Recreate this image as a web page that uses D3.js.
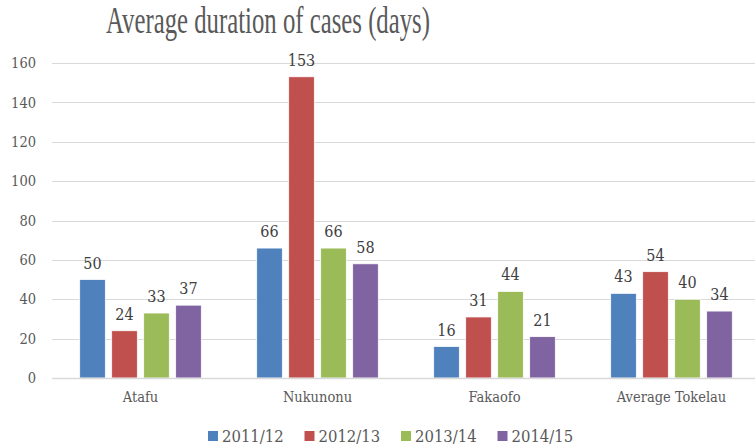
<!DOCTYPE html>
<html>
<head>
<meta charset="utf-8">
<script src="https://cdn.jsdelivr.net/npm/d3@7"></script>
<style>
  html, body { margin: 0; padding: 0; background: #fff; overflow: hidden; }
  text { font-family: "DejaVu Serif Condensed", "DejaVu Serif", serif; font-stretch: condensed; }
</style>
</head>
<body>
<script>
// chart data
const categories = ['Atafu', 'Nukunonu', 'Fakaofo', 'Average Tokelau'];
const seriesNames = ['2011/12', '2012/13', '2013/14', '2014/15'];
const v2011 = [50, 66, 16, 43];
const v2012 = [24, 153, 31, 54];
const v2013 = [33, 66, 44, 40];
const v2014 = [37, 58, 21, 34];
const yTicks = [0, 20, 40, 60, 80, 100, 120, 140, 160];
const colors = ['#4F81BD', '#C0504D', '#9BBB59', '#8064A2'];

const allSeries = [v2011, v2012, v2013, v2014];
const width = 755, height = 447;

const svg = d3.select('body')
    .append('svg')
    .attr('width', width)
    .attr('height', height);

svg.append('rect')
    .attr('width', width)
    .attr('height', height)
    .attr('fill', '#fff');

// title - narrow serif, stretched to the width seen in the picture
svg.append('text')
    .attr('x', 268)
    .attr('y', 33)
    .attr('text-anchor', 'middle')
    .style('font-family', '"Liberation Serif", serif')
    .style('font-stretch', 'normal')
    .attr('font-size', 37)
    .attr('fill', '#595959')
    .attr('textLength', 324)
    .attr('lengthAdjust', 'spacingAndGlyphs')
    .text('Average duration of cases (days)');

const x0 = d3.scaleBand()
    .domain(categories)
    .range([52, 760])
    .paddingInner(0.277)
    .paddingOuter(0.1385);

const x1 = d3.scaleBand()
    .domain(seriesNames)
    .range([0, x0.bandwidth()])
    .paddingInner(0.2)
    .paddingOuter(0.1);

const y = d3.scaleLinear()
    .domain([0, 160])
    .range([378, 63]);

// gridlines
svg.append('g')
    .selectAll('line')
    .data(yTicks)
    .join('line')
    .attr('x1', 52)
    .attr('x2', width)
    .attr('y1', d => Math.round(y(d)) + 0.5)
    .attr('y2', d => Math.round(y(d)) + 0.5)
    .attr('stroke', '#d9d9d9')
    .attr('stroke-width', 1);

// y axis labels
const yAxis = svg.append('g')
    .attr('transform', 'translate(36,0)')
    .call(d3.axisLeft(y).tickValues(yTicks).tickSize(0).tickPadding(0));
yAxis.select('.domain').remove();
yAxis.selectAll('text')
    .attr('font-family', null)
    .attr('font-size', 14.5)
    .attr('fill', '#595959');

// bars
const groups = svg.append('g')
    .selectAll('g')
    .data(categories)
    .join('g')
    .attr('transform', d => `translate(${x0(d)},0)`);

const bars = groups.selectAll('g.bar')
    .data((d, i) => seriesNames.map((s, j) => ({ series: s, idx: j, value: allSeries[j][i] })))
    .join('g')
    .attr('class', 'bar');

bars.append('rect')
    .attr('x', d => x1(d.series))
    .attr('y', d => y(d.value))
    .attr('width', x1.bandwidth())
    .attr('height', d => y(0) - y(d.value))
    .attr('fill', d => colors[d.idx])
    .attr('stroke', '#fff')
    .attr('stroke-width', 0.75);

bars.append('text')
    .attr('x', d => x1(d.series) + x1.bandwidth() / 2)
    .attr('y', d => y(d.value) - 11)
    .attr('text-anchor', 'middle')
    .attr('font-size', 16)
    .attr('fill', '#404040')
    .text(d => d.value);

// baseline
svg.append('line')
    .attr('x1', 52)
    .attr('x2', width)
    .attr('y1', Math.round(y(0)) + 0.5)
    .attr('y2', Math.round(y(0)) + 0.5)
    .attr('stroke', '#d9d9d9')
    .attr('stroke-width', 1.5);

// category labels
const xAxis = svg.append('g')
    .attr('transform', `translate(0,${y(0)})`)
    .call(d3.axisBottom(x0).tickSize(0).tickPadding(14));
xAxis.select('.domain').remove();
xAxis.selectAll('text')
    .attr('font-family', null)
    .attr('font-size', 14.5)
    .attr('fill', '#595959');

// legend
const legend = svg.append('g')
    .selectAll('g')
    .data(seriesNames)
    .join('g')
    .attr('transform', (d, i) => `translate(${208 + i * 96.5},431)`);

legend.append('rect')
    .attr('width', 10)
    .attr('height', 10)
    .attr('fill', (d, i) => colors[i]);

legend.append('text')
    .attr('x', 14)
    .attr('y', 10.5)
    .attr('font-size', 16.5)
    .attr('fill', '#595959')
    .text(d => d);
</script>
</body>
</html>
